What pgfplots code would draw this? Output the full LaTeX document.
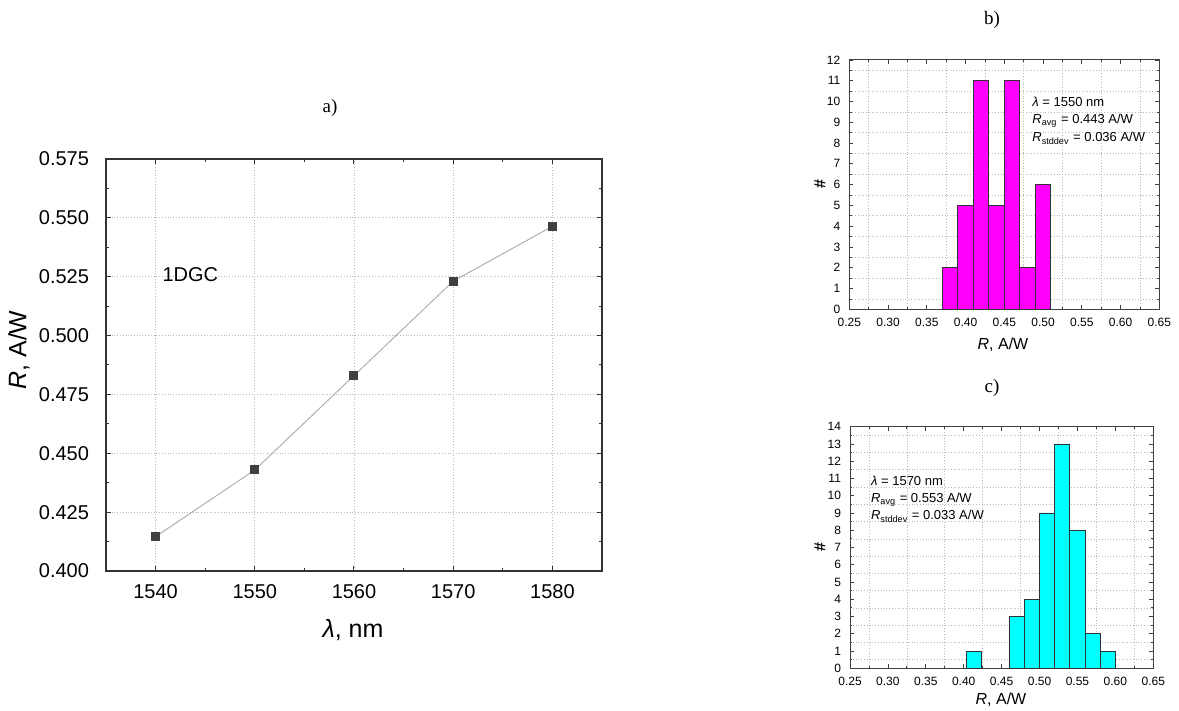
\documentclass[border=0pt]{standalone}
\usepackage{pgfplots}
\pgfplotsset{compat=1.18}
\usepackage{fontspec}
\setmainfont{Liberation Sans}
\newfontfamily\seriffont{Liberation Serif}
\definecolor{markgray}{HTML}{404040}
\definecolor{linegray}{HTML}{B0B0B0}
\definecolor{gridgray}{HTML}{B8B8B8}
\definecolor{barmagenta}{HTML}{FF00FF}
\definecolor{barcyan}{HTML}{00FFFF}
\pgfplotsset{
  histstyle/.style={
    anchor=south west, scale only axis,
    xmin=0.25, xmax=0.65,
    xtick={0.25,0.30,0.35,0.40,0.45,0.50,0.55,0.60,0.65},
    minor x tick num=1, minor y tick num=1,
    tick align=inside, major tick length=2pt, minor tick length=1.2pt,
    xminorgrids, yminorgrids,
    minor grid style={densely dotted, gridgray, line width=0.35pt},
    tick label style={font=\fontsize{6}{7}\selectfont},
    /pgf/number format/assume math mode=true,
    xticklabel style={/pgf/number format/fixed, /pgf/number format/fixed zerofill, /pgf/number format/precision=2, yshift=-1pt},
    yticklabel style={xshift=-1pt},
    scaled x ticks=false,
    axis line style={line width=0.5pt, black!75},
    every tick/.style={black!75, line width=0.4pt},
  }
}
\begin{document}
\begin{tikzpicture}
\path[use as bounding box] (0,0) rectangle (589.5pt,355.5pt);
% ---------------- a) ----------------
\begin{axis}[
  at={(53pt,70pt)}, anchor=south west, scale only axis,
  width=248pt, height=206pt,
  xmin=1535, xmax=1585, ymin=0.4, ymax=0.575,
  xtick={1540,1550,1560,1570,1580},
  ytick={0.400,0.425,0.450,0.475,0.500,0.525,0.550,0.575},
  minor x tick num=1, minor y tick num=1,
  tick align=inside, major tick length=2.5pt, minor tick length=1.5pt,
  grid=major, major grid style={densely dotted, gridgray, line width=0.4pt},
  tick label style={font=\fontsize{10}{12}\selectfont},
  /pgf/number format/assume math mode=true,
  yticklabel style={/pgf/number format/fixed, /pgf/number format/fixed zerofill, /pgf/number format/precision=3, xshift=-5pt},
  xticklabel style={/pgf/number format/1000 sep={}, yshift=-3pt},
  scaled y ticks=false, scaled x ticks=false,
  axis line style={line width=0.6pt, black!80},
  every tick/.style={black!80, line width=0.5pt},
]
\addplot[color=linegray, line width=0.5pt, mark=square*, mark size=2pt,
  mark options={fill=markgray, draw=markgray}] coordinates {
  (1540,0.4146) (1550,0.4429) (1560,0.4830) (1570,0.5231) (1580,0.5464)
};
\node[font=\fontsize{10}{12}\selectfont] at (axis cs:1543.5,0.5257) {1DGC};
\end{axis}
\node[rotate=90, font=\fontsize{12.5}{14}\selectfont] at (9.5pt,180.5pt) {{\itshape R}, A/W};
\node[font=\fontsize{12.5}{14}\selectfont] at (176.5pt,40.5pt) {{\itshape λ}, nm};
\node[font=\seriffont\fontsize{9.5}{11}\selectfont] at (165pt,301.5pt) {a)};
% ---------------- b) ----------------
\begin{axis}[histstyle,
  at={(424.65pt,200.85pt)}, width=155pt, height=124.65pt,
  ymin=0, ymax=12, ytick={0,1,2,3,4,5,6,7,8,9,10,11,12},
]
\addplot[ybar interval, fill=barmagenta, draw=black!80, line width=0.4pt] coordinates {
  (0.37,2) (0.39,5) (0.41,11) (0.43,5) (0.45,11) (0.47,2) (0.49,6) (0.51,6)
};
\end{axis}
\node[font=\seriffont\fontsize{9.5}{11}\selectfont] at (496pt,345.5pt) {b)};
\node[rotate=90, font=\bfseries\fontsize{8}{9}\selectfont] at (410pt,263.5pt) {\#};
\node[font=\fontsize{8}{9}\selectfont] at (501.5pt,183pt) {{\itshape R}, A/W};
\node[anchor=base west, inner sep=0pt, font=\fontsize{6.5}{8}\selectfont] at (516pt,302pt) {{\itshape λ} = 1550 nm};
\node[anchor=base west, inner sep=0pt, font=\fontsize{6.5}{8}\selectfont] at (516pt,293.5pt) {{\itshape R}\textsubscript{avg} = 0.443 A/W};
\node[anchor=base west, inner sep=0pt, font=\fontsize{6.5}{8}\selectfont] at (516pt,284.5pt) {{\itshape R}\textsubscript{stddev} = 0.036 A/W};
% ---------------- c) ----------------
\begin{axis}[histstyle,
  at={(425pt,21.35pt)}, width=151.65pt, height=120.8pt,
  ymin=0, ymax=14, ytick={0,1,2,3,4,5,6,7,8,9,10,11,12,13,14},
]
\addplot[ybar interval, fill=barcyan, draw=black!80, line width=0.4pt] coordinates {
  (0.403,1) (0.423,1)
};
\addplot[ybar interval, fill=barcyan, draw=black!80, line width=0.4pt] coordinates {
  (0.46,3) (0.48,4) (0.50,9) (0.52,13) (0.54,8) (0.56,2) (0.58,1) (0.60,1)
};
\end{axis}
\node[font=\seriffont\fontsize{9.5}{11}\selectfont] at (496pt,161.5pt) {c)};
\node[rotate=90, font=\bfseries\fontsize{8}{9}\selectfont] at (410pt,82pt) {\#};
\node[font=\fontsize{8}{9}\selectfont] at (500.5pt,5.5pt) {{\itshape R}, A/W};
\node[anchor=base west, inner sep=0pt, font=\fontsize{6.5}{8}\selectfont] at (435.35pt,112.5pt) {{\itshape λ} = 1570 nm};
\node[anchor=base west, inner sep=0pt, font=\fontsize{6.5}{8}\selectfont] at (435.35pt,104pt) {{\itshape R}\textsubscript{avg} = 0.553 A/W};
\node[anchor=base west, inner sep=0pt, font=\fontsize{6.5}{8}\selectfont] at (435.35pt,95.5pt) {{\itshape R}\textsubscript{stddev} = 0.033 A/W};
\end{tikzpicture}
\end{document}
